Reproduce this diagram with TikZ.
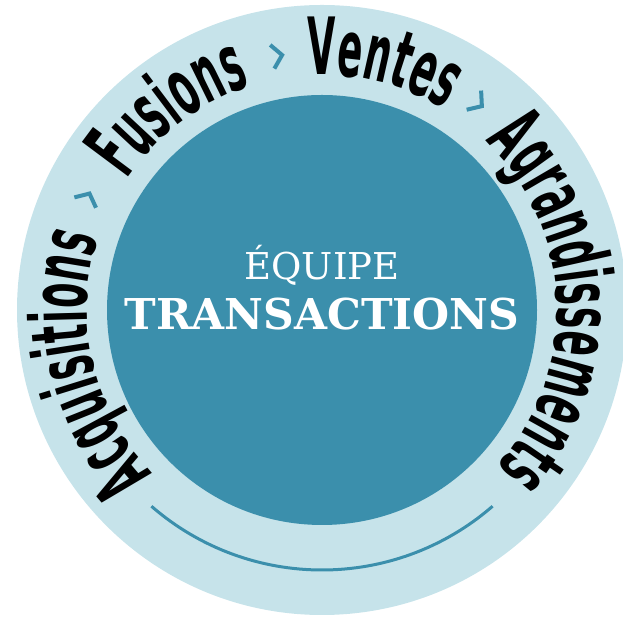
\documentclass[tikz,border=0pt]{standalone}
\usepackage{fontspec}
\usepackage{tikz}
\usetikzlibrary{decorations.text}
\newfontfamily\ringfont[FakeStretch=0.465]{DejaVu Sans}
\newfontfamily\slabfont{DejaVu Serif}
\newcommand\ringstyle{\ringfont\bfseries\fontsize{79}{80}\selectfont}
\definecolor{ringblue}{HTML}{C6E3EA}
\definecolor{coreblue}{HTML}{3B8FAC}

\begin{document}
\begin{tikzpicture}[x=1pt,y=1pt]
\tikzstyle{every node}+=[inner sep=0pt]
\tikzstyle{ring text}=[decorate, decoration={text along path, text align=center}]
\tikzstyle{chevron}=[draw=coreblue, line width=4pt, line join=miter]
\useasboundingbox (0,0) rectangle (623,620);
\coordinate (c) at (322,310);
\fill [ringblue] (c) circle (305);
\fill [coreblue] (c) circle (215);
\draw [coreblue, line width=3pt] (c) ++(229:260) arc[start angle=229, end angle=311, radius=260];
\path [ring text, decoration={text={|\ringstyle|Acquisitions}}] (c) ++(233:235) arc[start angle=233, end angle=153, radius=235];
\path [ring text, decoration={text={|\ringstyle|Fusions}}] (c) ++(167:235) arc[start angle=167, end angle=87, radius=235];
\path [ring text, decoration={text={|\ringstyle|Ventes}}] (c) ++(116:235) arc[start angle=116, end angle=36, radius=235];
\path [ring text, decoration={text={|\ringstyle|Agrandissements}}] (c) ++(56:235) arc[start angle=56, end angle=-52, radius=235];
\draw [chevron, shift={(c)}, shift={(154.5:260)}, rotate=64.5] (-5,12) -- (5,0) -- (-5,-12);
\draw [chevron, shift={(c)}, shift={(100:258)}, rotate=10] (-5,12) -- (5,0) -- (-5,-12);
\draw [chevron, shift={(c)}, shift={(53:259)}, rotate=-37] (-5,12) -- (5,0) -- (-5,-12);
\node (equipe) [anchor=base, text=white, font=\slabfont\fontsize{37}{37}\selectfont] at (322,340) {ÉQUIPE};
\node (trans) [anchor=base, text=white, font=\slabfont\bfseries\fontsize{42.5}{43}\selectfont] at (322,290) {TRANSACTIONS};
\end{tikzpicture}
\end{document}
